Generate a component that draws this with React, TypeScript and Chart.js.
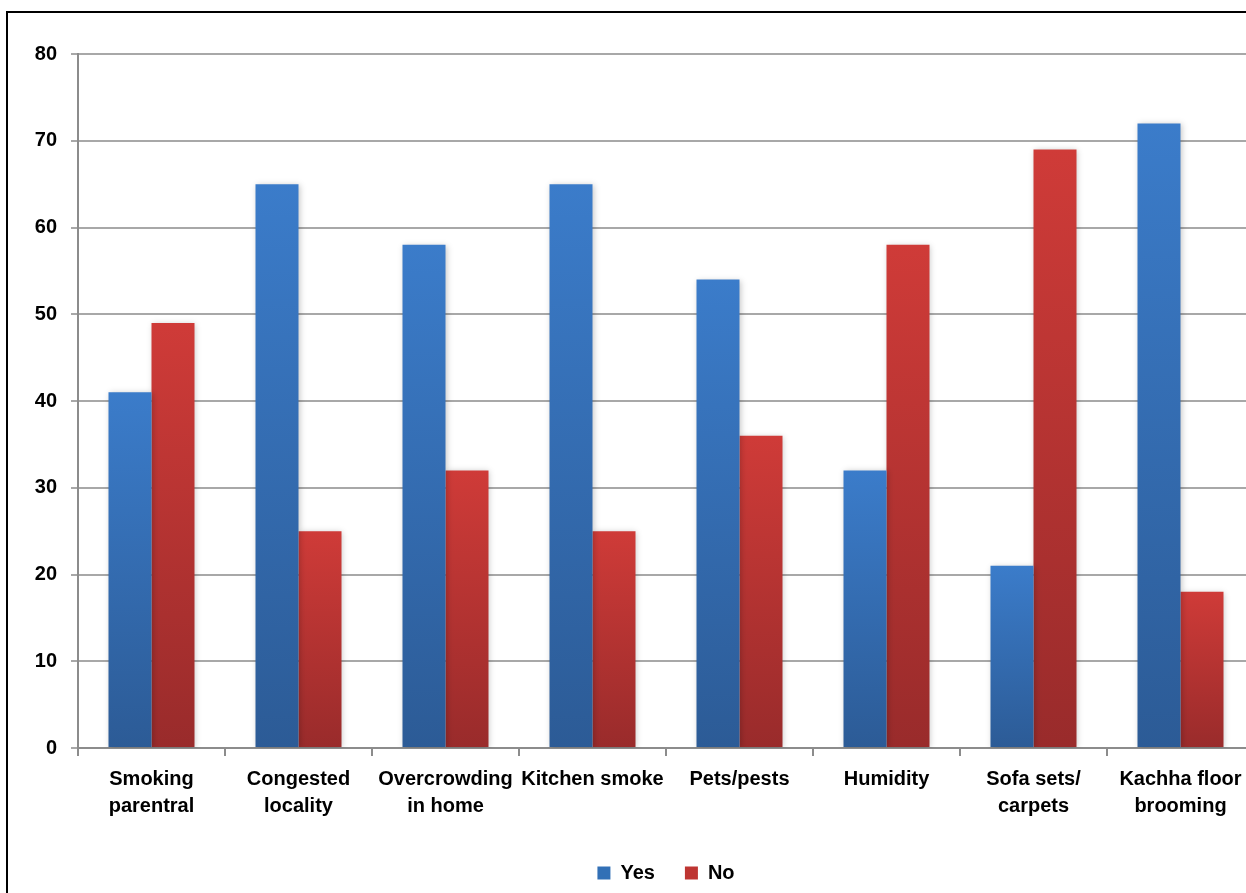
import React, { useEffect, useRef } from "react";
import { Chart, registerables } from "chart.js";

Chart.register(...registerables);

const categories: string[][] = [
  ["Smoking", "parentral"],
  ["Congested", "locality"],
  ["Overcrowding", "in home"],
  ["Kitchen smoke"],
  ["Pets/pests"],
  ["Humidity"],
  ["Sofa sets/", "carpets"],
  ["Kachha floor", "brooming"],
];
const yesValues = [41, 65, 58, 65, 54, 32, 21, 72];
const noValues = [49, 25, 32, 25, 36, 58, 69, 18];
const seriesNames = ["Yes", "No"];

const FONT = "'Liberation Sans', Arial, Helvetica, sans-serif";

function barGradient(top: string, bottom: string) {
  return (ctx: any) => {
    const chart = ctx.chart;
    const y = chart.scales?.y;
    if (!y || ctx.type !== "data" || !chart.chartArea) return top;
    const v = ctx.raw as number;
    const y0 = y.getPixelForValue(0);
    const y1 = y.getPixelForValue(v);
    if (!isFinite(y0) || !isFinite(y1) || y0 === y1) return top;
    const g = chart.ctx.createLinearGradient(0, y1, 0, y0);
    g.addColorStop(0, top);
    g.addColorStop(1, bottom);
    return g;
  };
}

const shadowPlugin = {
  id: "barShadow",
  beforeDatasetsDraw(chart: any) {
    const c = chart.ctx;
    c.save();
    c.shadowColor = "rgba(0,0,0,0.22)";
    c.shadowBlur = 6;
    c.shadowOffsetX = 1;
    c.shadowOffsetY = 1;
  },
  afterDatasetsDraw(chart: any) {
    chart.ctx.restore();
  },
};

export default function App() {
  const ref = useRef<HTMLCanvasElement | null>(null);
  useEffect(() => {
    if (!ref.current) return;
    const chart = new Chart(ref.current, {
      type: "bar",
      data: {
        labels: categories,
        datasets: [
          {
            label: seriesNames[0],
            data: yesValues,
            backgroundColor: barGradient("#3b7cca", "#2c5b96"),
            borderWidth: 0,
            categoryPercentage: 0.585,
            barPercentage: 1.0,
          },
          {
            label: seriesNames[1],
            data: noValues,
            backgroundColor: barGradient("#cf3b38", "#992b2b"),
            borderWidth: 0,
            categoryPercentage: 0.585,
            barPercentage: 1.0,
          },
        ],
      },
      options: {
        responsive: false,
        animation: false,
        layout: { padding: { top: 54, right: 8, left: 0, bottom: 0 } },
        plugins: {
          tooltip: { enabled: false },
          legend: {
            position: "bottom",
            fullSize: false,
            labels: {
              color: "#000",
              font: { family: FONT, size: 20, weight: "bold" },
              boxWidth: 13,
              boxHeight: 13,
              padding: 30,
              generateLabels: (chart: any) =>
                chart.data.datasets.map((d: any, i: number) => ({
                  text: d.label,
                  fillStyle: i === 0 ? "#3270b6" : "#be3532",
                  strokeStyle: "transparent",
                  lineWidth: 0,
                  datasetIndex: i,
                  hidden: false,
                })),
            },
          },
        },
        scales: {
          x: {
            grid: {
              display: true,
              drawOnChartArea: false,
              drawTicks: true,
              tickLength: 8,
              color: "#8c8c8c",
              lineWidth: 2,
            },
            border: { color: "#8c8c8c", width: 2 },
            ticks: {
              color: "#000",
              font: { family: FONT, size: 20, weight: "bold", lineHeight: 1.35 },
              maxRotation: 0,
              minRotation: 0,
              autoSkip: false,
              padding: 10,
            },
            afterFit: (s: any) => {
              s.height = 85;
            },
          },
          y: {
            min: 0,
            max: 80,
            ticks: {
              stepSize: 10,
              color: "#000",
              font: { family: FONT, size: 20, weight: "bold" },
              padding: 14,
            },
            grid: {
              color: "#a8a8a8",
              lineWidth: 2,
              drawTicks: true,
              tickLength: 7,
            },
            border: { color: "#8c8c8c", width: 2 },
            afterFit: (s: any) => {
              s.width = 78;
            },
          },
        },
      },
      plugins: [shadowPlugin],
    });
    return () => chart.destroy();
  }, []);

  return (
    <div
      style={{
        position: "fixed",
        left: 0,
        top: 0,
        width: 1246,
        height: 893,
        overflow: "hidden",
        background: "#fff",
      }}
    >
      <canvas ref={ref} width={1262} height={893} style={{ position: "absolute", left: 0, top: 0 }} />
      <div
        style={{
          position: "absolute",
          left: 6,
          top: 11,
          width: 3000,
          height: 3000,
          borderLeft: "2px solid #000",
          borderTop: "2px solid #000",
          pointerEvents: "none",
        }}
      />
    </div>
  );
}
